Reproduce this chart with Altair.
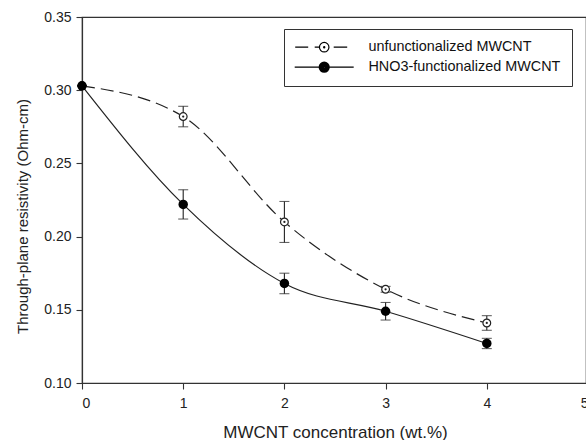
import altair as alt
import pandas as pd

# ---- data ----
conc = [0, 1, 2, 3, 4]
unf_val = [0.303, 0.282, 0.210, 0.164, 0.141]
unf_err = [0.0, 0.007, 0.014, 0.002, 0.005]
hno_val = [0.303, 0.222, 0.168, 0.149, 0.127]
hno_err = [0.0, 0.010, 0.007, 0.006, 0.0035]
series_names = ["unfunctionalized MWCNT", "HNO3-functionalized MWCNT"]
x_ticks = [0, 1, 2, 3, 4, 5]
y_ticks = [0.10, 0.15, 0.20, 0.25, 0.30, 0.35]

rows = []
for name, vals, errs in [(series_names[0], unf_val, unf_err),
                         (series_names[1], hno_val, hno_err)]:
    for c, v, e in zip(conc, vals, errs):
        rows.append({"conc": c, "val": v, "lo": v - e, "hi": v + e, "series": name})
df = pd.DataFrame(rows)

FONT = "Liberation Sans"
INK = "#222222"

x_axis = alt.Axis(values=x_ticks, format="d", title="MWCNT concentration (wt.%)",
                  grid=False, tickSize=6, labelPadding=7, labelFontSize=14,
                  titleFontSize=17, titleFontWeight="normal",
                  titleX=253, titleY=49, titleBaseline="middle", titleAlign="center")
y_axis = alt.Axis(values=y_ticks, format=".2f", title="Through-plane resistivity (Ohm-cm)",
                  grid=False, tickSize=6, labelPadding=5, labelFontSize=14,
                  titleFontSize=15, titleFontWeight="normal",
                  titleX=-60, titleY=199, titleBaseline="middle", titleAlign="center",
                  titleAngle=-90)
x_scale = alt.Scale(domain=[0, 5], range=[0, 506], nice=False, zero=False)
y_scale = alt.Scale(domain=[0.10, 0.35], nice=False, zero=False)


def X():
    return alt.X("conc:Q", scale=x_scale, axis=x_axis)


def Y(field="val"):
    return alt.Y(f"{field}:Q", scale=y_scale, axis=y_axis)


base = alt.Chart(df)
unf = base.transform_filter(alt.datum.series == series_names[0])
hno = base.transform_filter(alt.datum.series == series_names[1])

line_unf = unf.mark_line(interpolate="monotone", strokeDash=[13, 6], color=INK,
                         strokeWidth=1.2).encode(x=X(), y=Y())
line_hno = hno.mark_line(interpolate="monotone", color=INK,
                         strokeWidth=1.2).encode(x=X(), y=Y())

err = base.mark_rule(color=INK, strokeWidth=1.1).encode(
    x=X(), y=Y("lo"), y2="hi:Q")
cap_lo = base.mark_tick(orient="horizontal", size=10, thickness=1.1, color=INK).encode(
    x=X(), y=Y("lo"))
cap_hi = base.mark_tick(orient="horizontal", size=10, thickness=1.1, color=INK).encode(
    x=X(), y=Y("hi"))

pts_unf = unf.mark_point(shape="circle", filled=False, size=60, stroke=INK,
                         fill="white", fillOpacity=1, strokeWidth=1.2,
                         opacity=1).encode(x=X(), y=Y())
dot_unf = unf.mark_point(shape="circle", filled=True, size=5, color=INK,
                         opacity=1).encode(x=X(), y=Y())
pts_hno = hno.mark_point(shape="circle", filled=True, size=90, color="black",
                         opacity=1).encode(x=X(), y=Y())

# legend symbols: line + marker drawn as custom SVG paths (unit = 5 px)
def ring(r):
    return f"M{r},0A{r},{r},0,1,1,-{r},0A{r},{r},0,1,1,{r},0"

path_unf = ("M-5.8,0H-3.2M-1.9,0H-0.95M1.9,0H4.6" + ring(0.95) + ring(0.12))
path_hno = ("M-5.9,0H-1.0M1.0,0H5.9" + ring(1.0) + ring(0.76) + ring(0.52)
            + ring(0.28) + ring(0.08))

leg = alt.Legend(title=None,
                 orient="none", legendX=202, legendY=12,
                 strokeColor="#333333", padding=11, symbolSize=100,
                 symbolOffset=22, labelOffset=37, rowPadding=4,
                 labelFontSize=14.4, labelFont=FONT, labelColor="#111111",
                 labelLimit=400, labelExpr="datum.label + '   '",
                 symbolStrokeWidth=1.2, symbolStrokeColor="black",
                 symbolFillColor="white",
                 symbolOpacity=1, cornerRadius=0, fillColor="white")

legend_layer = base.mark_point(opacity=0, filled=False, stroke="black").encode(
    x=X(), y=Y(),
    shape=alt.Shape("series:N", scale=alt.Scale(domain=series_names,
                                                range=[path_unf, path_hno]),
                    legend=leg),
)

chart = alt.layer(
    line_unf, line_hno, err, cap_lo, cap_hi, pts_unf, dot_unf, pts_hno, legend_layer
).properties(
    width=504, height=366,
    autosize=alt.AutoSizeParams(type="none"),
    padding={"left": 82, "top": 17, "right": 0, "bottom": 57},
).configure(
    font=FONT,
    background="white",
).configure_view(
    stroke="#333333", strokeWidth=1.2,
).configure_axis(
    domainColor="#333333", tickColor="#333333", labelColor=INK, titleColor=INK,
    domainWidth=1.2, tickWidth=1.1, labelFont=FONT, titleFont=FONT,
)

chart.save("out.html", embed_options={"renderer": "svg", "actions": False})
